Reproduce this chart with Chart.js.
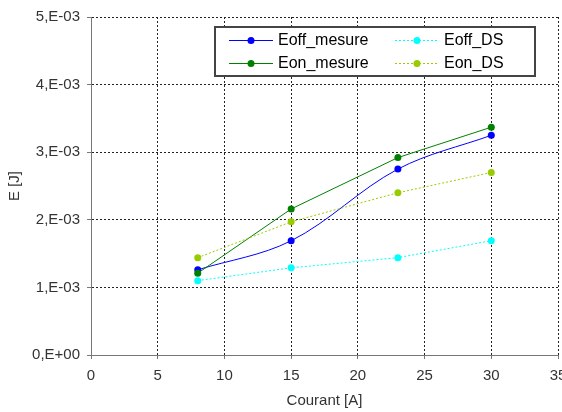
<!DOCTYPE html>
<html>
<head>
<meta charset="utf-8">
<script src="https://cdn.jsdelivr.net/npm/chart.js@4.4.1/dist/chart.umd.min.js"></script>
<style>
  html, body { margin: 0; padding: 0; background: #fff; }
  #wrap { width: 562px; height: 412px; }
</style>
</head>
<body>
<div id="wrap"><canvas id="chart" width="562" height="412"></canvas></div>
<script>
// values
const courant = [8, 15, 23, 30];
const eoffMesure = [1.26e-3, 1.69e-3, 2.75e-3, 3.25e-3];
const eonMesure = [1.21e-3, 2.16e-3, 2.92e-3, 3.37e-3];
const eoffDS = [1.10e-3, 1.29e-3, 1.44e-3, 1.69e-3];
const eonDS = [1.44e-3, 1.97e-3, 2.40e-3, 2.70e-3];
const seriesNames = ['Eoff_mesure', 'Eon_mesure', 'Eoff_DS', 'Eon_DS'];

const FONT = 'Liberation Sans, Arial, sans-serif';

const pts = arr => arr.map((v, i) => ({ x: courant[i], y: v }));

// Excel style "5,E-03"
function sci(v) {
    if (v === 0) return '0,E+00';
    const e = Math.floor(Math.log10(Math.abs(v)) + 1e-9);
    const m = Math.round(v / Math.pow(10, e));
    const ee = Math.abs(e) < 10 ? '0' + Math.abs(e) : '' + Math.abs(e);
    return m + ',E' + (e < 0 ? '-' : '+') + ee;
}

function line(label, data, color, dotted, tension, order) {
    return {
        label: label,
        data: pts(data),
        borderColor: color,
        backgroundColor: color,
        borderWidth: 1,
        borderDash: dotted ? [2, 2] : [],
        pointRadius: 3.5,
        pointBorderWidth: 0,
        pointHoverRadius: 3.5,
        tension: tension,
        order: order,
        fill: false
    };
}

// two-column boxed legend like the Excel one
const boxLegend = {
    id: 'boxLegend',
    afterDraw(chart) {
        const ctx = chart.ctx;
        const x0 = 215, y0 = 27, w = 320, h = 49;
        ctx.save();
        ctx.fillStyle = '#fff';
        ctx.fillRect(x0, y0, w, h);
        ctx.strokeStyle = '#444';
        ctx.lineWidth = 2;
        ctx.strokeRect(x0, y0, w, h);
        ctx.font = '16px ' + FONT;
        ctx.textBaseline = 'middle';
        chart.data.datasets.forEach((ds, i) => {
            // mesure in the left column, DS in the right
            const c = i < 2 ? 0 : 1;
            const r = i % 2;
            const lx = c === 0 ? 229 : 395;
            const cy = r === 0 ? 40 : 63;
            ctx.strokeStyle = ds.borderColor;
            ctx.lineWidth = 1;
            ctx.setLineDash(ds.borderDash);
            ctx.beginPath();
            ctx.moveTo(lx, cy + 0.5);
            ctx.lineTo(lx + 44, cy + 0.5);
            ctx.stroke();
            ctx.setLineDash([]);
            ctx.fillStyle = ds.backgroundColor;
            ctx.beginPath();
            ctx.arc(lx + 22, cy + 0.5, 3.5, 0, Math.PI * 2);
            ctx.fill();
            ctx.fillStyle = '#000';
            ctx.fillText(ds.label, lx + 49, cy + 1);
        });
        ctx.restore();
    }
};

new Chart(document.getElementById('chart'), {
    type: 'line',
    data: {
        datasets: [
            line(seriesNames[0], eoffMesure, '#0000ff', false, 0.35, 3),
            line(seriesNames[1], eonMesure, '#008000', false, 0, 2),
            line(seriesNames[2], eoffDS, '#00ffff', true, 0, 1),
            line(seriesNames[3], eonDS, '#99cc00', true, 0, 0)
        ]
    },
    options: {
        responsive: false,
        animation: false,
        layout: { padding: { left: 0, top: 17, right: 4, bottom: 0 } },
        plugins: {
            legend: { display: false },
            tooltip: { enabled: false }
        },
        scales: {
            x: {
                type: 'linear',
                min: 0,
                max: 35,
                border: { display: true, color: '#777', width: 1, dash: [2, 2] },
                grid: {
                    color: '#222',
                    tickBorderDash: [],
                    tickColor: '#777',
                    tickLength: 4,
                    drawTicks: true
                },
                ticks: {
                    stepSize: 5,
                    color: '#333',
                    padding: 8,
                    maxRotation: 0,
                    font: { family: FONT, size: 15 }
                },
                title: {
                    display: true,
                    text: 'Courant [A]',
                    color: '#333',
                    padding: { top: 0, bottom: 2 },
                    font: { family: FONT, size: 15 }
                },
                afterFit(s) { s.height = 57; s.paddingLeft = 0; s.paddingRight = 0; }
            },
            y: {
                type: 'linear',
                min: 0,
                max: 5e-3,
                border: { display: true, color: '#777', width: 1, dash: [2, 2] },
                grid: {
                    color: '#222',
                    tickBorderDash: [],
                    tickColor: '#777',
                    tickLength: 4,
                    drawTicks: true
                },
                ticks: {
                    stepSize: 1e-3,
                    color: '#333',
                    padding: 7,
                    callback: v => sci(v),
                    font: { family: FONT, size: 15 }
                },
                title: {
                    display: true,
                    text: 'E [J]',
                    color: '#333',
                    padding: { top: 6, bottom: 0 },
                    font: { family: FONT, size: 15 }
                },
                afterFit(s) { s.width = 91; s.paddingTop = 0; s.paddingBottom = 0; }
            }
        }
    },
    plugins: [boxLegend]
});
</script>
</body>
</html>
